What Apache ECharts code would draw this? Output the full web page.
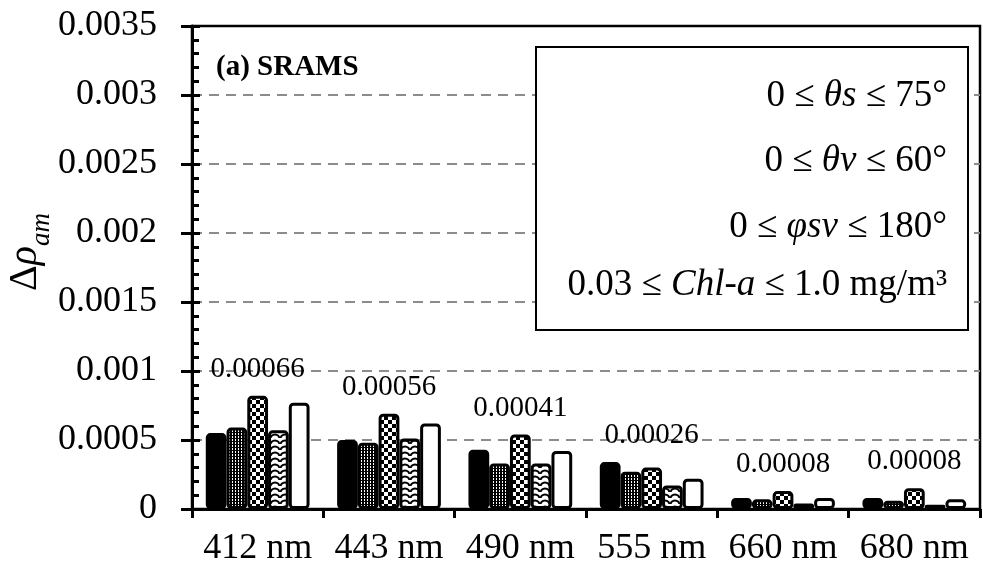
<!DOCTYPE html>
<html>
<head>
<meta charset="utf-8">
<script src="https://cdn.jsdelivr.net/npm/echarts@6/dist/echarts.min.js"></script>
<style>
  html, body { margin: 0; padding: 0; background: #fff; }
</style>
</head>
<body>
<div id="main" style="width: 983px;height:569px;"></div>
<script>
// wavelengths
var categories = ['412 nm', '443 nm', '490 nm', '555 nm', '660 nm', '680 nm'];
// five bars per wavelength
var s1 = [0.00055, 0.00050, 0.00043, 0.00034, 0.00008, 0.00008];
var s2 = [0.00059, 0.00048, 0.00033, 0.00027, 0.00007, 0.00006];
var s3 = [0.00082, 0.00069, 0.00054, 0.00030, 0.00013, 0.00015];
var s4 = [0.00057, 0.00051, 0.00033, 0.00017, 0.00004, 0.00003];
var s5 = [0.00077, 0.00062, 0.00042, 0.00022, 0.00008, 0.00007];
// mean value printed above each group
var means = [0.00066, 0.00056, 0.00041, 0.00026, 0.00008, 0.00008];

var FONT = "'Liberation Serif', 'Times New Roman', serif";

// hatch patterns like the excel fills
function makeTile(w, h, draw) {
    var c = document.createElement('canvas');
    c.width = w; c.height = h;
    var ctx = c.getContext('2d');
    ctx.fillStyle = '#fff';
    ctx.fillRect(0, 0, w, h);
    draw(ctx);
    return { image: c, repeat: 'repeat' };
}
var dotFill = makeTile(3, 3, function (ctx) {
    ctx.fillStyle = '#000';
    ctx.fillRect(0, 0, 3, 3);
    ctx.fillStyle = '#fff';
    ctx.fillRect(1, 1, 1, 2);
});
var checkFill = makeTile(8, 8, function (ctx) {
    ctx.fillStyle = '#000';
    ctx.fillRect(0, 0, 4, 4);
    ctx.fillRect(4, 4, 4, 4);
});
var waveFill = makeTile(10, 6, function (ctx) {
    ctx.strokeStyle = '#000';
    ctx.lineWidth = 2;
    ctx.beginPath();
    ctx.arc(5, 7, 4.5, Math.PI, 2 * Math.PI);
    ctx.stroke();
});

var groupMax = categories.map(function (c, i) {
    return Math.max(s1[i], s2[i], s3[i], s4[i], s5[i]);
});

function barSeries(name, data, fill) {
    return {
        name: name,
        type: 'bar',
        data: data,
        barGap: 0,
        barCategoryGap: '21%',
        itemStyle: {
            color: fill,
            borderColor: '#000',
            borderWidth: 3,
            borderRadius: 3
        }
    };
}

var myChart = echarts.init(document.getElementById('main'));

var yScale = { min: 0, max: 0.0035, interval: 0.0005 };

function legendLine(y, text) {
    return {
        type: 'text', x: 947, y: y, z: 11,
        style: {
            text: text, align: 'right', verticalAlign: 'middle',
            rich: {
                n: { font: '37px ' + FONT, fill: '#000' },
                i: { font: 'italic 37px ' + FONT, fill: '#000' }
            }
        }
    };
}

var option = {
    animation: false,
    backgroundColor: '#fff',
    grid: {
        left: 192, right: 3, top: 26, bottom: 60,
        show: true,
        borderColor: '#000',
        borderWidth: 2.5,
        outerBoundsMode: 'none'
    },
    xAxis: {
        type: 'category',
        data: categories,
        axisLine: { lineStyle: { color: '#000', width: 3 } },
        axisTick: { show: true, length: 9, lineStyle: { color: '#000', width: 3 } },
        axisLabel: { interval: 0, margin: 22, color: '#000', fontFamily: FONT, fontSize: 36 },
        splitLine: { show: false }
    },
    yAxis: [{
        type: 'value',
        min: yScale.min, max: yScale.max, interval: yScale.interval,
        axisLine: { show: true, lineStyle: { color: '#000', width: 3 } },
        axisTick: { show: true, inside: true, length: 8, lineStyle: { color: '#000', width: 3 } },
        minorTick: { show: true, splitNumber: 5, length: 7, lineStyle: { color: '#000', width: 3 } },
        axisLabel: {
            margin: 35, color: '#000', fontFamily: FONT, fontSize: 36,
            formatter: function (v) { return String(parseFloat(v.toFixed(4))); }
        },
        splitLine: {
            show: true, showMinLine: false, showMaxLine: false,
            lineStyle: { color: '#8c8c8c', width: 2, type: [10, 7] }
        }
    }, {
        // outer half of the major ticks
        type: 'value',
        position: 'left',
        min: yScale.min, max: yScale.max, interval: yScale.interval,
        axisLine: { show: false },
        axisTick: { show: true, inside: false, length: 11, lineStyle: { color: '#000', width: 3 } },
        axisLabel: { show: false },
        splitLine: { show: false }
    }],
    series: [
        barSeries('a', s1, '#000'),
        barSeries('b', s2, dotFill),
        barSeries('c', s3, checkFill),
        barSeries('d', s4, waveFill),
        barSeries('e', s5, '#fff'),
        {
            type: 'scatter',
            symbolSize: 0,
            data: groupMax.map(function (v, i) { return [i, v]; }),
            itemStyle: { opacity: 1 },
            label: {
                show: true,
                position: 'top',
                distance: 12,
                color: '#000',
                opacity: 1,
                textBorderWidth: 0,
                fontFamily: FONT,
                fontSize: 29,
                formatter: function (p) { return means[p.dataIndex].toFixed(5); }
            },
            z: 5
        }
    ],
    graphic: [
        {
            type: 'text', x: 216, y: 68, z: 10,
            style: { text: '(a) SRAMS', font: 'bold 29px ' + FONT, fill: '#000', verticalAlign: 'middle' }
        },
        {
            type: 'text', x: 30, y: 252, rotation: Math.PI / 2, z: 10,
            style: {
                text: '{d|Δ}{r|ρ}{s|am}',
                align: 'center', verticalAlign: 'middle', fill: '#000',
                rich: {
                    d: { font: '40px ' + FONT, padding: [0, 0, 10, 0] },
                    r: { font: 'italic 40px ' + FONT, padding: [0, 0, 10, 0] },
                    s: { font: 'italic 27px ' + FONT, verticalAlign: 'bottom' }
                }
            }
        },
        {
            type: 'rect', z: 10,
            shape: { x: 536, y: 47, width: 432, height: 283 },
            style: { fill: '#fff', stroke: '#000', lineWidth: 2 }
        },
        legendLine(96, '{n|0 ≤ }{i|θs}{n| ≤ 75°}'),
        legendLine(161, '{n|0 ≤ }{i|θv}{n| ≤ 60°}'),
        legendLine(227, '{n|0 ≤ }{i|φsv}{n| ≤ 180°}'),
        legendLine(285, '{n|0.03 ≤ }{i|Chl-a}{n| ≤ 1.0 mg/m³}')
    ]
};

myChart.setOption(option);
</script>
</body>
</html>
